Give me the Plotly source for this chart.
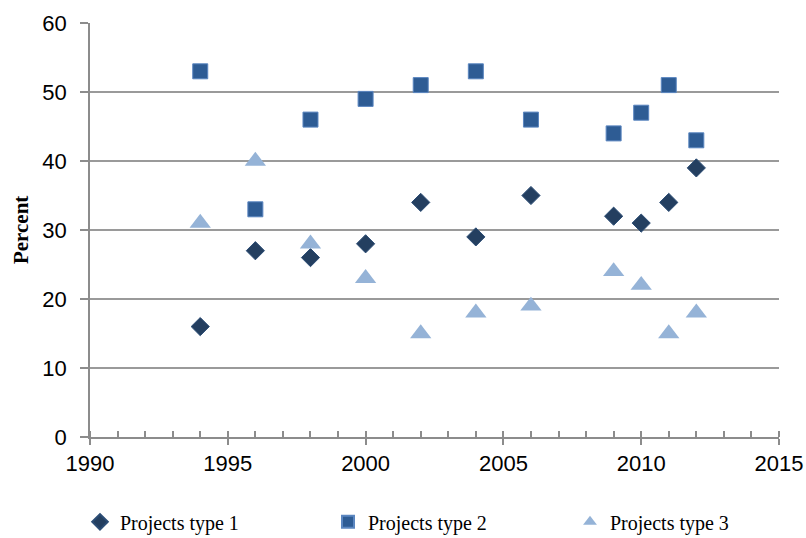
import plotly.graph_objects as go

years = [1994, 1996, 1998, 2000, 2002, 2004, 2006, 2009, 2010, 2011, 2012]
type1 = [16, 27, 26, 28, 34, 29, 35, 32, 31, 34, 39]
type2 = [53, 33, 46, 49, 51, 53, 46, 44, 47, 51, 43]
type3 = [31, 40, 28, 23, 15, 18, 19, 24, 22, 15, 18]
x_ticks = [1990, 1995, 2000, 2005, 2010, 2015]
y_ticks = [0, 10, 20, 30, 40, 50, 60]

serif = "Liberation Serif, Times New Roman, serif"
sans = "Liberation Sans, Arial, sans-serif"

fig = go.Figure()
fig.add_trace(go.Scatter(x=years, y=type1, mode="markers", name="Projects type 1", legend="legend",
                         marker=dict(symbol="diamond", size=14, color="#243F60",
                                     line=dict(color="#2C4D75", width=1))))
fig.add_trace(go.Scatter(x=years, y=type2, mode="markers", name="Projects type 2", legend="legend2",
                         marker=dict(symbol="square", size=15, color="#2E5C94",
                                     line=dict(color="#5B86C0", width=1))))
fig.add_trace(go.Scatter(x=years, y=type3, mode="markers", name="Projects type 3", legend="legend3",
                         marker=dict(symbol="triangle-up", size=18.5, color="#95B3D7",
                                     line=dict(color="#95B3D7", width=0))))

leg_common = dict(xref="container", yref="container", xanchor="left", yanchor="middle",
                  y=0.03, font=dict(family=serif, size=20, color="black"),
                  itemsizing="constant", itemwidth=30, bgcolor="rgba(0,0,0,0)")

fig.update_layout(
    width=806, height=538,
    margin=dict(l=90, r=27, t=23, b=101, autoexpand=False),
    paper_bgcolor="white", plot_bgcolor="white",
    font=dict(family=sans, size=22, color="black"),
    showlegend=True,
    legend=dict(x=80 / 806, **leg_common),
    legend2=dict(x=328 / 806, **leg_common),
    legend3=dict(x=570 / 806, **leg_common),
    xaxis=dict(range=[1990, 2015], tickvals=x_ticks, showgrid=False,
               showline=True, linecolor="#8C8C8C", linewidth=1.5,
               ticks="outside", ticklen=6, tickcolor="#8C8C8C", tickwidth=1.5,
               minor=dict(dtick=1, ticks="inside", ticklen=6, tickcolor="#8C8C8C", tickwidth=1.5, showgrid=False),
               zeroline=False, tickfont=dict(family=sans, size=22), automargin=False),
    yaxis=dict(range=[0, 60], tickvals=y_ticks, showgrid=True, gridcolor="#9A9A9A", gridwidth=1.5,
               showline=True, linecolor="#8C8C8C", linewidth=1.5,
               ticks="outside", ticklen=8, tickcolor="#8C8C8C", tickwidth=1.5,
               zeroline=False, tickfont=dict(family=sans, size=22), automargin=False,
               ticklabelstandoff=9),
    annotations=[dict(text="<b>Percent</b>", xref="paper", yref="paper", x=-0.1, y=0.5,
                      xanchor="center", yanchor="middle", textangle=-90, showarrow=False,
                      font=dict(family=serif, size=21, color="black"))],
)

fig.write_html("out.html", config={"displayModeBar": False},
               post_script="document.body.style.margin='0px';")
